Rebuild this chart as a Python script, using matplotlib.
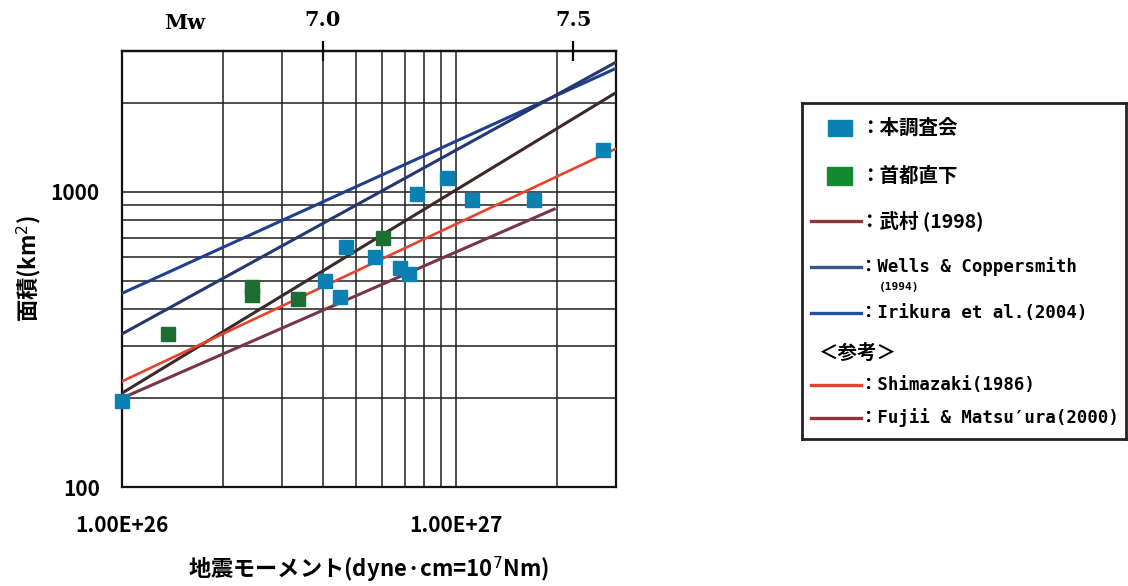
import numpy as np
import matplotlib
matplotlib.use('Agg')
import matplotlib.pyplot as plt
from matplotlib.ticker import LogLocator, FuncFormatter, NullFormatter, NullLocator
from matplotlib.patches import Rectangle
from matplotlib.lines import Line2D

plt.rcParams['font.family'] = ['Noto Sans CJK JP', 'DejaVu Sans']
plt.rcParams['axes.unicode_minus'] = False

# 本調査会 (blue squares)
blue_m0 = [1.0e26, 4.05e26, 4.5e26, 4.66e26, 5.69e26, 6.8e26, 7.23e26,
           7.64e26, 9.34e26, 1.11e27, 1.71e27, 2.75e27]
blue_area = [196, 500, 440, 652, 600, 551, 527, 984, 1112, 940, 940, 1387]

# 首都直下 (green squares)
green_m0 = [1.37e26, 2.45e26, 2.45e26, 3.36e26, 6.05e26]
green_area = [330, 476, 448, 433, 697]

# scaling relations (end points)
takemura_m0 = [1e26, 3e27]
takemura_area = [208, 2168]
wells_m0 = [1e26, 3e27]
wells_area = [330, 2750]
irikura_m0 = [1e26, 3e27]
irikura_area = [453, 2620]
shimazaki_m0 = [1e26, 3e27]
shimazaki_area = [228, 1400]
fujii_m0 = [1e26, 1.96e27]
fujii_area = [200, 874]

mw_ticks = [7.0, 7.5]

c_blue = '#0b80b2'
c_green = '#1d6e30'
c_takemura = '#3b2a28'
c_wells = '#24386f'
c_irikura = '#1f3f8f'
c_shimazaki = '#e8432a'
c_fujii = '#7a3448'

fig = plt.figure(figsize=(11.28, 5.86), dpi=100)
ax = fig.add_axes([122/1128, 1-487/586, 494/1128, 436/586])

ax.set_xscale('log')
ax.set_yscale('log')
ax.set_xlim(1e26, 3e27)
ax.set_ylim(100, 3000)

ax.plot(irikura_m0, irikura_area, color=c_irikura, lw=2.2, zorder=3)
ax.plot(wells_m0, wells_area, color=c_wells, lw=2.2, zorder=3)
ax.plot(takemura_m0, takemura_area, color=c_takemura, lw=2.2, zorder=3)
ax.plot(shimazaki_m0, shimazaki_area, color=c_shimazaki, lw=1.9, zorder=3)
ax.plot(fujii_m0, fujii_area, color=c_fujii, lw=2.2, zorder=3)

ax.plot(blue_m0, blue_area, 's', color=c_blue, ms=10, zorder=4, clip_on=False)
ax.plot(green_m0, green_area, 's', color=c_green, ms=10, zorder=4)

# grid
ax.xaxis.set_major_locator(LogLocator(base=10, numticks=10))
ax.xaxis.set_minor_locator(LogLocator(base=10, subs=np.arange(2, 10), numticks=20))
ax.yaxis.set_major_locator(LogLocator(base=10, numticks=10))
ax.yaxis.set_minor_locator(LogLocator(base=10, subs=np.arange(2, 10), numticks=20))
ax.grid(True, which='both', color='#1e1e1e', lw=1.1)
ax.set_axisbelow(True)

ax.xaxis.set_major_formatter(FuncFormatter(lambda v, p: '%.2E' % v))
ax.yaxis.set_major_formatter(FuncFormatter(lambda v, p: '%d' % v))
ax.xaxis.set_minor_formatter(NullFormatter())
ax.yaxis.set_minor_formatter(NullFormatter())
ax.tick_params(which='both', length=0)
ax.tick_params(axis='x', labelsize=15, pad=20)
ax.tick_params(axis='y', labelsize=15, pad=16)
for lab in ax.get_xticklabels() + ax.get_yticklabels():
    lab.set_fontweight('bold')
for s in ax.spines.values():
    s.set_linewidth(1.6)
    s.set_color('#111111')

ax.set_xlabel('地震モーメント(dyne·cm=10$^7$Nm)', fontsize=16, labelpad=14,
              fontweight='bold')
ax.set_ylabel('面積(km$^2$)', fontsize=16, labelpad=5, fontweight='bold')


# Mw axis on top
def to_mw(m0):
    m0 = np.asarray(m0, dtype=float)
    return (np.log10(np.maximum(m0, 1e-30)) - 16.1) / 1.5


def to_m0(mw):
    return 10 ** (1.5 * np.asarray(mw, dtype=float) + 16.1)


secax = ax.secondary_xaxis('top', functions=(to_mw, to_m0))
secax.set_xticks(mw_ticks)
secax.set_xticklabels(['%.1f' % m for m in mw_ticks], family='DejaVu Serif',
                      fontweight='bold', fontsize=15)
secax.xaxis.set_minor_locator(NullLocator())
secax.xaxis.set_minor_formatter(NullFormatter())
secax.tick_params(direction='inout', length=14, width=1.6, pad=8)
secax.spines['top'].set_linewidth(1.6)
fig.text(185/1128, 1-23/586, 'Mw', family='DejaVu Serif', fontweight='bold',
         fontsize=15, ha='center', va='center')

# legend box
lg = fig.add_axes([802/1128, 1-439/586, 324/1128, 336/586])
lg.set_xlim(0, 324)
lg.set_ylim(336, 0)
lg.set_xticks([])
lg.set_yticks([])
for s in lg.spines.values():
    s.set_linewidth(2.0)
    s.set_color('#222222')

mono = ['DejaVu Sans Mono', 'Noto Sans CJK JP']
lg.add_patch(Rectangle((26, 17), 24, 16, color=c_blue))
lg.text(58, 25, '：本調査会', fontsize=14, va='center', fontweight='bold')
lg.add_patch(Rectangle((25, 64), 25, 18, color='#138a30'))
lg.text(58, 73, '：首都直下', fontsize=14, va='center', fontweight='bold')

rows = [(118, '#8b3838', '：武村 (1998)', None),
        (164, '#3a5688', '：Wells & Coppersmith', mono),
        (210, '#2450a4', '：Irikura et al.(2004)', mono),
        (282, '#e8432a', '：Shimazaki(1986)', mono),
        (315, '#8b3838', '：Fujii & Matsu′ura(2000)', mono)]
for y, col, txt, fam in rows:
    lg.add_line(Line2D([9, 59], [y, y], color=col, lw=2.4))
    if fam is None:
        lg.text(58, y, txt, fontsize=14, va='center', fontweight='bold')
    else:
        lg.text(58, y, txt, fontsize=12.5, va='center', family=fam,
                fontweight='bold')
lg.text(77, 184, '(1994)', fontsize=8, va='center', family=mono, fontweight='bold')
lg.text(16, 250, '＜参考＞', fontsize=14, va='center', fontweight='bold')

plt.savefig('out.png', dpi=100)
